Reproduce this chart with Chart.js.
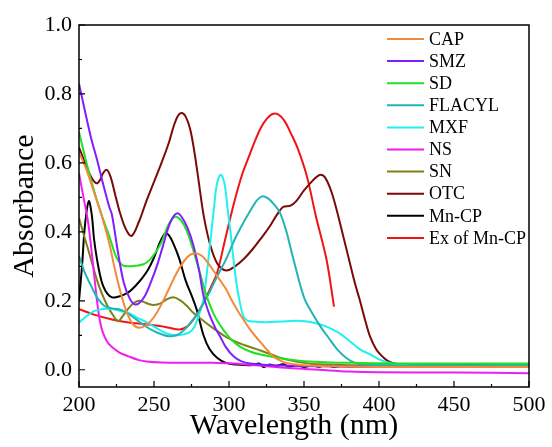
<!DOCTYPE html>
<html>
<head>
<meta charset="utf-8">
<script src="https://cdn.jsdelivr.net/npm/chart.js@4.4.1/dist/chart.umd.min.js"></script>
<style>
  html, body { margin: 0; padding: 0; background: #fff; }
  canvas { display: block; }
</style>
</head>
<body>
<canvas id="uvChart" width="552" height="447"></canvas>
<script>
// wavelength (nm) / absorbance pairs
const capX = [200, 205, 210, 215, 220, 224, 228, 232, 236, 240, 245, 250, 255, 260, 265, 270, 274, 278, 282, 286, 290, 294, 298, 302, 306, 310, 314, 318, 322, 326, 330, 335, 340, 350, 370, 400, 500];
const capY = [0.63, 0.58, 0.515, 0.449, 0.37, 0.29, 0.22, 0.165, 0.132, 0.122, 0.13, 0.153, 0.19, 0.235, 0.28, 0.315, 0.333, 0.338, 0.33, 0.31, 0.285, 0.26, 0.234, 0.2, 0.17, 0.143, 0.117, 0.095, 0.075, 0.055, 0.037, 0.025, 0.018, 0.013, 0.01, 0.008, 0.008];

const smzX = [200, 204, 208, 212, 216, 220, 222, 226, 230, 234, 237, 240, 244, 248, 252, 256, 260, 263, 265.5, 268, 272, 276, 280, 283, 287, 291, 294, 298, 303, 308, 314, 330, 360, 400, 500];
const smzY = [0.83, 0.75, 0.673, 0.61, 0.54, 0.475, 0.449, 0.34, 0.25, 0.205, 0.19, 0.193, 0.215, 0.255, 0.302, 0.36, 0.418, 0.445, 0.454, 0.446, 0.415, 0.365, 0.29, 0.215, 0.16, 0.12, 0.097, 0.065, 0.039, 0.025, 0.018, 0.013, 0.01, 0.008, 0.008];

const sdX = [200, 205, 210, 215, 220, 225, 229, 233, 238, 243, 247, 251, 255, 259, 262, 264.5, 267, 270, 273, 276, 280, 285, 290, 296, 301, 307, 314, 321, 332, 340, 350, 380, 420, 500];
const sdY = [0.69, 0.6, 0.52, 0.45, 0.39, 0.325, 0.303, 0.3, 0.302, 0.306, 0.318, 0.34, 0.37, 0.415, 0.437, 0.444, 0.438, 0.42, 0.39, 0.35, 0.29, 0.215, 0.16, 0.117, 0.09, 0.068, 0.053, 0.044, 0.035, 0.03, 0.025, 0.02, 0.018, 0.018];

const flacylX = [200, 204, 208, 212, 217, 222, 226, 231, 235, 240, 244, 250, 255, 260, 265, 270, 275, 280, 287, 292, 298, 304, 310, 314, 318, 322, 326, 330, 334, 338, 343, 350, 356, 361, 366, 372, 378, 384, 390, 420, 500];
const flacylY = [0.33, 0.28, 0.244, 0.21, 0.185, 0.178, 0.176, 0.168, 0.156, 0.14, 0.127, 0.112, 0.103, 0.097, 0.1, 0.115, 0.14, 0.17, 0.225, 0.27, 0.32, 0.38, 0.43, 0.46, 0.488, 0.503, 0.497, 0.48, 0.455, 0.405, 0.32, 0.21, 0.16, 0.125, 0.095, 0.06, 0.035, 0.02, 0.015, 0.012, 0.012];

const mxfX = [200, 205, 210, 216, 222, 228, 233, 238, 244, 250, 256, 260, 265, 270, 274, 277, 280, 283, 287, 290, 292, 294.5, 297, 299, 301, 303, 305, 307, 309.5, 312, 316, 325, 335, 345, 352, 358, 365, 370, 374, 380, 387, 394, 400, 409, 420, 500];
const mxfY = [0.137, 0.155, 0.17, 0.176, 0.176, 0.17, 0.165, 0.153, 0.14, 0.125, 0.11, 0.103, 0.1, 0.103, 0.11, 0.125, 0.16, 0.205, 0.35, 0.47, 0.54, 0.566, 0.54, 0.47, 0.4, 0.32, 0.25, 0.2, 0.156, 0.143, 0.14, 0.138, 0.14, 0.142, 0.14, 0.135, 0.125, 0.115, 0.105, 0.085, 0.06, 0.045, 0.03, 0.018, 0.013, 0.012];

const nsX = [200, 203, 206, 209, 212, 214, 216, 219, 222, 227, 233, 240, 245, 255, 270, 290, 300, 320, 340, 360, 380, 400, 450, 500];
const nsY = [0.57, 0.5, 0.43, 0.32, 0.2, 0.14, 0.107, 0.08, 0.066, 0.05, 0.039, 0.028, 0.024, 0.021, 0.02, 0.02, 0.019, 0.012, 0.005, 0.0, -0.005, -0.007, -0.008, -0.01];

const snX = [200, 204, 208, 212, 215, 219, 222, 226, 229, 233, 237, 240, 243, 247, 250, 254, 258, 263, 268, 272, 276, 282, 288, 293, 298, 304, 310, 316, 321, 328, 334, 340, 350, 360, 400, 500];
const snY = [0.44, 0.38, 0.32, 0.26, 0.224, 0.185, 0.163, 0.141, 0.155, 0.178, 0.195, 0.2, 0.197, 0.19, 0.188, 0.192, 0.203, 0.21, 0.2, 0.185, 0.166, 0.145, 0.125, 0.11, 0.095, 0.082, 0.072, 0.063, 0.056, 0.045, 0.035, 0.028, 0.02, 0.016, 0.012, 0.012];

const otcX = [200, 204, 208, 211.6, 214, 216, 218.5, 221, 224, 227, 231, 235, 240, 245, 250, 255, 260, 263, 266, 268.4, 271, 274, 277, 280, 283, 287, 292, 298, 304, 310, 316, 322, 327, 332, 336, 341, 345, 350, 355, 358, 361, 364, 368, 372, 376, 380, 384, 387, 391, 394, 398, 401, 405, 409, 415, 450, 500];
const otcY = [0.645, 0.6, 0.56, 0.541, 0.55, 0.57, 0.58, 0.56, 0.51, 0.46, 0.41, 0.388, 0.43, 0.49, 0.545, 0.6, 0.66, 0.705, 0.737, 0.745, 0.735, 0.7, 0.63, 0.54, 0.45, 0.37, 0.31, 0.288, 0.3, 0.322, 0.351, 0.385, 0.415, 0.45, 0.472, 0.476, 0.49, 0.52, 0.545, 0.558, 0.566, 0.558, 0.52, 0.46, 0.39, 0.32, 0.25, 0.205, 0.14, 0.097, 0.06, 0.044, 0.028, 0.02, 0.015, 0.013, 0.013];

const mncpX = [200, 202, 204, 206.5, 208.5, 210, 212, 214, 216, 219, 222, 226, 230, 234, 238, 242, 246, 250, 254, 257.5, 260, 263, 267, 271, 276, 279, 283, 287, 292, 298, 305, 315, 320, 323, 327, 331, 336, 340, 345, 350, 355, 360, 365, 370, 375, 380, 390, 420, 500];
const mncpY = [0.2, 0.3, 0.42, 0.489, 0.45, 0.38, 0.32, 0.275, 0.244, 0.22, 0.21, 0.212, 0.218, 0.228, 0.245, 0.265, 0.29, 0.325, 0.37, 0.395, 0.39, 0.365, 0.32, 0.26, 0.205, 0.167, 0.1, 0.06, 0.035, 0.02, 0.015, 0.013, 0.018, 0.008, 0.015, 0.01, 0.016, 0.009, 0.013, 0.008, 0.012, 0.009, 0.014, 0.008, 0.012, 0.01, 0.012, 0.012, 0.012];

const exX = [200, 210, 222, 232, 244, 254, 260, 267, 272, 277, 283, 288, 292, 297, 303, 309, 313, 317, 321, 325, 329, 333, 337, 341, 346, 352, 358, 365, 370];
const exY = [0.176, 0.16, 0.146, 0.138, 0.132, 0.127, 0.122, 0.117, 0.125, 0.15, 0.195, 0.24, 0.28, 0.37, 0.478, 0.57, 0.615, 0.66, 0.7, 0.727, 0.742, 0.74, 0.722, 0.688, 0.64, 0.56, 0.444, 0.32, 0.183];

const seriesNames = ["CAP", "SMZ", "SD", "FLACYL", "MXF", "NS", "SN", "OTC", "Mn-CP", "Ex of Mn-CP"];
const seriesX = [capX, smzX, sdX, flacylX, mxfX, nsX, snX, otcX, mncpX, exX];
const seriesY = [capY, smzY, sdY, flacylY, mxfY, nsY, snY, otcY, mncpY, exY];
const seriesColors = ["#F28A3A", "#7F1FFF", "#22E022", "#22B4B4", "#1FF0F0", "#F01EF0", "#808018", "#7A0A0A", "#000000", "#F01414"];

const xTicks = [200, 250, 300, 350, 400, 450, 500];
const yTicks = [0.0, 0.2, 0.4, 0.6, 0.8, 1.0];

const serif = '"Liberation Serif", "Times New Roman", serif';

const datasets = seriesNames.map((name, i) => ({
  label: name,
  data: seriesX[i].map((x, j) => ({ x: x, y: seriesY[i][j] })),
  borderColor: seriesColors[i],
  backgroundColor: seriesColors[i],
  borderWidth: 2,
  pointRadius: 0,
  fill: false,
  tension: 0.35
}));

// frame, inward ticks, x title and the in-plot legend
const framePlugin = {
  id: "frame",
  afterDraw(chart) {
    const ctx = chart.ctx;
    const area = chart.chartArea;
    const xs = chart.scales.x;
    const ys = chart.scales.y;
    ctx.save();
    ctx.strokeStyle = "#000";
    ctx.lineWidth = 1.5;
    ctx.strokeRect(area.left, area.top, area.right - area.left, area.bottom - area.top);

    ctx.lineWidth = 1.2;
    ctx.beginPath();
    for (let v = 200; v <= 500; v += 25) {
      const px = xs.getPixelForValue(v);
      const len = v % 50 === 0 ? 6 : 3;
      ctx.moveTo(px, area.bottom);
      ctx.lineTo(px, area.bottom - len);
    }
    for (let k = 0; k <= 10; k++) {
      const py = ys.getPixelForValue(k / 10);
      const len = k % 2 === 0 ? 6 : 3;
      ctx.moveTo(area.left, py);
      ctx.lineTo(area.left + len, py);
    }
    ctx.stroke();

    // x axis title, sitting a little left of the plot centre as in the figure
    ctx.fillStyle = "#000";
    ctx.font = "30px " + serif;
    ctx.textAlign = "center";
    ctx.textBaseline = "alphabetic";
    ctx.fillText("Wavelength (nm)", (area.left + area.right) / 2 - 10, 434);

    // legend
    ctx.font = "18px " + serif;
    ctx.textBaseline = "middle";
    ctx.textAlign = "left";
    chart.data.datasets.forEach((ds, i) => {
      const y = area.top + 14 + i * 22.1;
      ctx.strokeStyle = ds.borderColor;
      ctx.lineWidth = 2;
      ctx.beginPath();
      ctx.moveTo(area.right - 142, y);
      ctx.lineTo(area.right - 105, y);
      ctx.stroke();
      ctx.fillStyle = "#000";
      ctx.fillText(ds.label, area.right - 100, y + 1);
    });
    ctx.restore();
  }
};

new Chart(document.getElementById("uvChart").getContext("2d"), {
  type: "line",
  data: { datasets: datasets },
  options: {
    responsive: false,
    animation: false,
    layout: { padding: { top: 25, right: 23, left: 0, bottom: 0 } },
    plugins: {
      legend: { display: false },
      tooltip: { enabled: false }
    },
    scales: {
      x: {
        type: "linear",
        min: 200,
        max: 500,
        afterBuildTicks: scale => { scale.ticks = xTicks.map(v => ({ value: v })); },
        afterFit: scale => { scale.height = 60; },
        grid: { display: false, drawTicks: false },
        border: { display: false },
        ticks: {
          color: "#000",
          padding: 5,
          maxRotation: 0,
          font: { family: serif, size: 22 }
        },
        title: { display: false }
      },
      y: {
        type: "linear",
        min: -0.05,
        max: 1.0,
        afterBuildTicks: scale => { scale.ticks = yTicks.map(v => ({ value: v })); },
        afterFit: scale => { scale.width = 79; },
        grid: { display: false, drawTicks: false },
        border: { display: false },
        ticks: {
          color: "#000",
          padding: 7,
          font: { family: serif, size: 22 },
          callback: v => v.toFixed(1)
        },
        title: {
          display: true,
          text: "Absorbance",
          color: "#000",
          font: { family: serif, size: 30 },
          padding: { top: 7, bottom: 0 }
        }
      }
    }
  },
  plugins: [framePlugin]
});
</script>
</body>
</html>
